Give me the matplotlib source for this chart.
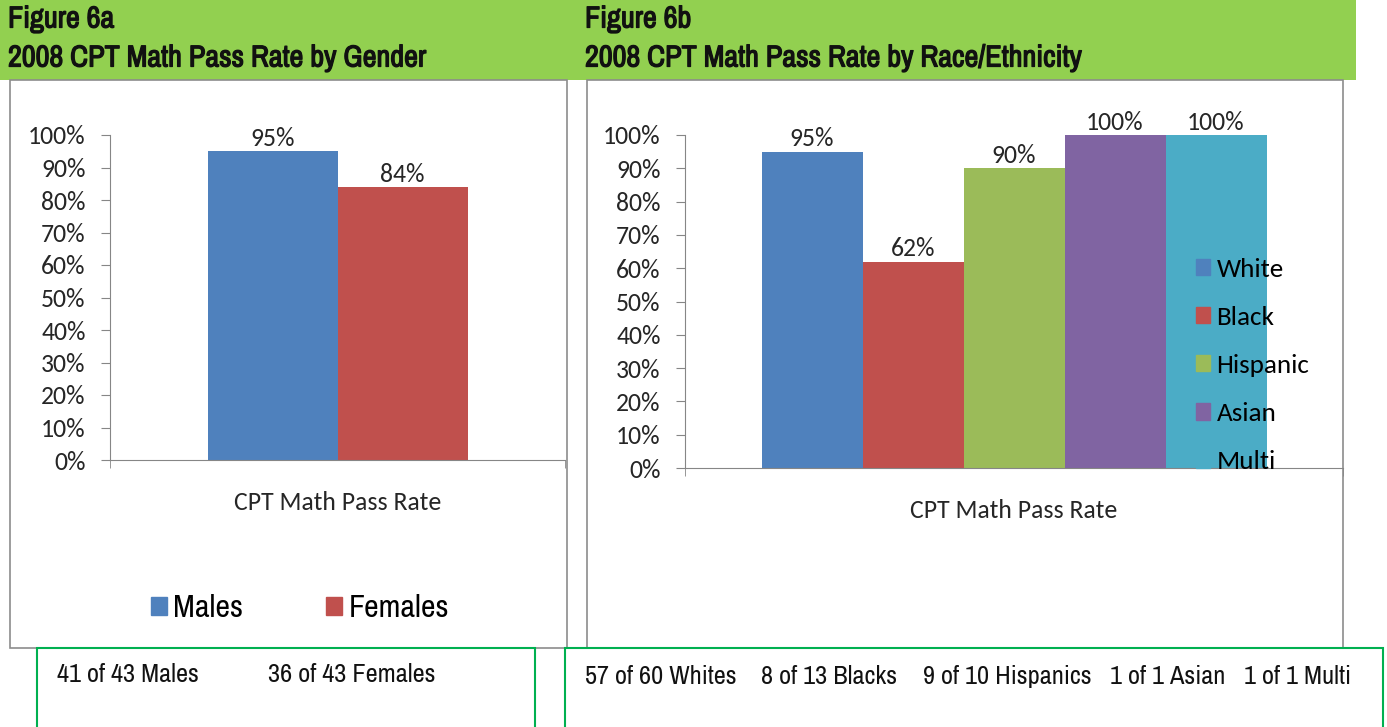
import matplotlib
matplotlib.use("Agg")
import matplotlib.pyplot as plt
import matplotlib.patheffects as pe
from matplotlib.patches import Rectangle, Patch
from matplotlib.ticker import PercentFormatter

W, H = 1387, 727

# data
gender_labels = ["Males", "Females"]
gender_rates = [0.95, 0.84]
gender_passed = [41, 36]
gender_total = [43, 43]

race_labels = ["White", "Black", "Hispanic", "Asian", "Multi"]
race_plural = ["Whites", "Blacks", "Hispanics", "Asian", "Multi"]
race_rates = [0.95, 0.62, 0.90, 1.00, 1.00]
race_passed = [57, 8, 9, 1, 1]
race_total = [60, 13, 10, 1, 1]

category = "CPT Math Pass Rate"
yticks = [i / 10 for i in range(11)]

gender_colors = ["#4F81BD", "#C0504D"]
race_colors = ["#4F81BD", "#C0504D", "#9BBB59", "#8064A2", "#4BACC6"]

NARROW = ["Archivo Narrow", "Liberation Sans", "DejaVu Sans"]
BODY = ["Carlito", "Open Sans", "DejaVu Sans"]
AXIS_GRAY = "#868686"
TXT = "#262626"

fig = plt.figure(figsize=(W / 100, H / 100), dpi=100)


def px_rect(x0, y0, x1, y1):
    # pixel box (top-left origin) -> figure fraction [l, b, w, h]
    return [x0 / W, 1 - y1 / H, (x1 - x0) / W, (y1 - y0) / H]


def box(x0, y0, x1, y1, **kw):
    l, b, w, h = px_rect(x0, y0, x1, y1)
    fig.patches.append(Rectangle((l, b), w, h, transform=fig.transFigure, **kw))


def ftext(x, y, s, **kw):
    return fig.text(x / W, 1 - y / H, s, **kw)


# header band and frames (behind the axes)
box(0, 0, 1356, 80, facecolor="#92D050", edgecolor="none", zorder=-2)
box(10, 80, 567, 648, facecolor="white", edgecolor="#8C8C8C", lw=1.2, zorder=-1)
box(587, 80, 1343, 648, facecolor="white", edgecolor="#8C8C8C", lw=1.2, zorder=-1)
box(37, 648, 535, 740, facecolor="none", edgecolor="#00B050", lw=1.5, zorder=3)
box(565, 648, 1383, 740, facecolor="none", edgecolor="#00B050", lw=1.5, zorder=3)

# no bold narrow face installed, so thicken the strokes a bit
hdr = dict(family=NARROW, fontsize=21.8, color="#111111", va="center",
           path_effects=[pe.withStroke(linewidth=0.9, foreground="#111111")])
ftext(8, 19, "Figure 6a", **hdr)
ftext(8, 58, "2008 CPT Math Pass Rate by Gender", **hdr)
ftext(585, 19, "Figure 6b", **hdr)
ftext(585, 58, "2008 CPT Math Pass Rate by Race/Ethnicity", **hdr)


def bar_panel(rect, labels, rates, colors, width):
    ax = fig.add_axes(px_rect(*rect))
    ax.patch.set_alpha(0)
    n = len(rates)
    xs = [(i - (n - 1) / 2) * width for i in range(n)]
    bars = ax.bar(xs, rates, width=width, color=colors, label=labels, zorder=2)
    for b, v in zip(bars, rates):
        ax.annotate(f"{v:.0%}", (b.get_x() + b.get_width() / 2, v),
                    xytext=(0, 1), textcoords="offset points",
                    ha="center", va="bottom", family=BODY, fontsize=18.5,
                    color=TXT)
    ax.set_xlim(-0.5, 0.5)
    ax.set_ylim(0, 1)
    ax.set_yticks(yticks)
    ax.yaxis.set_major_formatter(PercentFormatter(1.0, decimals=0))
    ax.set_xticks([0])
    ax.set_xticklabels([category])
    ax.set_xticks([-0.5, 0.5], minor=True)
    for s in ["top", "right"]:
        ax.spines[s].set_visible(False)
    for s in ["left", "bottom"]:
        ax.spines[s].set_color(AXIS_GRAY)
    ax.tick_params(axis="y", length=6.5, color=AXIS_GRAY, pad=11,
                   labelsize=18.5, labelcolor=TXT)
    ax.tick_params(axis="x", which="major", length=0, pad=22,
                   labelsize=18.5, labelcolor=TXT)
    ax.tick_params(axis="x", which="minor", length=6, color=AXIS_GRAY)
    for t in ax.get_xticklabels() + ax.get_yticklabels():
        t.set_family(BODY)
    return ax, bars


# Figure 6a
ax1, bars1 = bar_panel((110, 135, 565, 460), gender_labels, gender_rates,
                       gender_colors, 130 / 455)
fig.legend(handles=[Patch(color=c, label=l) for c, l in zip(gender_colors, gender_labels)],
           loc="center", bbox_to_anchor=(300 / W, 1 - 608 / H), ncol=2, frameon=False,
           prop=dict(family=NARROW, size=23), handlelength=0.5, handleheight=0.5,
           handletextpad=0.2, columnspacing=2.6)

# Figure 6b
ax2, bars2 = bar_panel((685, 135, 1343, 468), race_labels, race_rates,
                       race_colors, 101 / 658)
fig.legend(handles=[Patch(color=c, label=l) for c, l in zip(race_colors, race_labels)],
           loc="upper left", bbox_to_anchor=(1182 / W, 1 - 244 / H), frameon=False,
           prop=dict(family=BODY, size=19.5), handlelength=0.55, handleheight=0.55,
           handletextpad=0.22, labelspacing=0.93, borderpad=0)

# counts under each chart
cnt = dict(family=NARROW, fontsize=19, color="#111111", va="center")
gender_x = [57, 268]
for x, p, t, l in zip(gender_x, gender_passed, gender_total, gender_labels):
    ftext(x, 675, f"{p} of {t} {l}", **cnt)
race_x = [585, 761, 923, 1110, 1244]
for x, p, t, l in zip(race_x, race_passed, race_total, race_plural):
    ftext(x, 676, f"{p} of {t} {l}", **cnt)

fig.savefig("out.png", dpi=100)
